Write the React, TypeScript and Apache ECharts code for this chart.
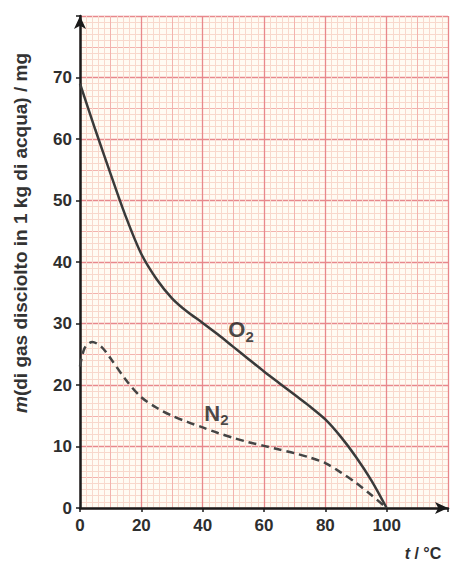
import React, { useEffect, useRef } from "react";
import * as echarts from "echarts";

const o2Temps = [0, 5, 10, 15, 20, 25, 30, 35, 40, 45, 50, 55, 60, 65, 70, 75, 80, 85, 90, 95, 100];
const o2Values = [69, 61.5, 54.3, 47.3, 41.3, 37.2, 34.1, 31.9, 30.1, 28.2, 26.2, 24.2, 22.2, 20.3, 18.4, 16.5, 14.4, 11.6, 8.3, 4.5, 0];
const n2Temps = [0, 1.5, 4, 7, 10, 15, 20, 25, 30, 35, 40, 45, 50, 55, 60, 65, 70, 75, 80, 85, 90, 95, 100];
const n2Values = [23, 26, 27, 26.2, 24.3, 20.8, 18, 16.3, 15, 14, 13.1, 12.2, 11.4, 10.7, 10.1, 9.5, 8.9, 8.2, 7.3, 5.8, 4.1, 2.1, 0];
const o2Label = [52.5, 29];
const n2Label = [44.5, 15.4];
const xTicks = [0, 20, 40, 60, 80, 100];
const yTicks = [0, 10, 20, 30, 40, 50, 60, 70];

export default function App() {
  const ref = useRef<HTMLDivElement>(null);
  useEffect(() => {
    if (!ref.current) return;
    const chart = echarts.init(ref.current, undefined, { renderer: "svg" });
    const font = "'Liberation Sans', Arial, sans-serif";
    const gridBox = { left: 80, top: 16, right: 3, bottom: 59 };
    const hiddenAxisBase = {
      type: "value" as const,
      min: 0,
      axisLine: { show: false },
      axisTick: { show: false },
      axisLabel: { show: false },
    };
    const labelStyle = {
      fontFamily: font,
      fontWeight: "bold" as const,
      fontSize: 17,
      color: "#2e2e2e",
    };
    chart.setOption({
      animation: false,
      backgroundColor: "#ffffff",
      grid: [
        { ...gridBox, show: true, backgroundColor: "#fffbf3", borderWidth: 0 },
        { ...gridBox },
        { ...gridBox },
      ],
      xAxis: [
        {
          ...hiddenAxisBase,
          gridIndex: 1,
          max: 120,
          interval: 10,
          splitLine: { show: true, lineStyle: { color: "#f3b3ae", width: 1 } },
          minorTick: { show: false, splitNumber: 5 },
          minorSplitLine: { show: true, lineStyle: { color: "#f8d8cc", width: 1 } },
        },
        {
          ...hiddenAxisBase,
          gridIndex: 2,
          max: 120,
          interval: 20,
          splitLine: { show: true, lineStyle: { color: "#e8888c", width: 1.3 } },
        },
        {
          type: "value",
          gridIndex: 0,
          min: 0,
          max: 120,
          interval: 20,
          splitLine: { show: false },
          axisLine: {
            show: true,
            symbol: ["none", "arrow"],
            symbolSize: [9, 13],
            lineStyle: { color: "#1a1a1a", width: 2.5 },
          },
          axisTick: { show: true, length: 4, lineStyle: { color: "#1a1a1a", width: 1.5 } },
          axisLabel: {
            ...labelStyle,
            margin: 9,
            formatter: (v: number) => (xTicks.includes(v) ? String(v) : ""),
          },
        },
      ],
      yAxis: [
        {
          ...hiddenAxisBase,
          gridIndex: 1,
          max: 80,
          interval: 5,
          splitLine: { show: true, lineStyle: { color: "#f3b3ae", width: 1 } },
          minorTick: { show: false, splitNumber: 5 },
          minorSplitLine: { show: true, lineStyle: { color: "#f8d8cc", width: 1 } },
        },
        {
          ...hiddenAxisBase,
          gridIndex: 2,
          max: 80,
          interval: 10,
          splitLine: { show: true, lineStyle: { color: "#e8888c", width: 1.3 } },
        },
        {
          type: "value",
          gridIndex: 0,
          min: 0,
          max: 80,
          interval: 10,
          splitLine: { show: false },
          axisLine: {
            show: true,
            symbol: ["none", "arrow"],
            symbolSize: [9, 13],
            lineStyle: { color: "#1a1a1a", width: 2.5 },
          },
          axisTick: { show: true, length: 4, lineStyle: { color: "#1a1a1a", width: 1.5 } },
          axisLabel: {
            ...labelStyle,
            margin: 8,
            formatter: (v: number) => (yTicks.includes(v) ? String(v) : ""),
          },
        },
      ],
      series: [
        {
          type: "line",
          xAxisIndex: 2,
          yAxisIndex: 2,
          smooth: 0.3,
          symbol: "none",
          data: o2Temps.map((t, i) => [t, o2Values[i]]),
          lineStyle: { color: "#3a3a3a", width: 2.5 },
          z: 5,
        },
        {
          type: "line",
          xAxisIndex: 2,
          yAxisIndex: 2,
          smooth: 0.3,
          symbol: "none",
          data: n2Temps.map((t, i) => [t, n2Values[i]]),
          lineStyle: { color: "#444", width: 2.5, type: [8, 5] },
          z: 5,
        },
        {
          type: "scatter",
          xAxisIndex: 2,
          yAxisIndex: 2,
          symbolSize: 0,
          silent: true,
          data: [
            { value: o2Label, label: { formatter: "{a|O}{b|2}" } },
            { value: n2Label, label: { formatter: "{a|N}{b|2}" } },
          ],
          label: {
            show: true,
            position: "inside",
            rich: {
              a: { fontFamily: font, fontWeight: "bold", fontSize: 22, color: "#1a1a1a" },
              b: { fontFamily: font, fontWeight: "bold", fontSize: 15, color: "#1a1a1a", padding: [13, 0, 0, 0] },
            },
          },
          z: 6,
        },
      ],
      graphic: [
        {
          type: "text",
          x: 20,
          y: 233,
          rotation: Math.PI / 2,
          style: {
            text: "{i|m}(di gas disciolto in 1 kg di acqua) / mg",
            align: "center",
            verticalAlign: "middle",
            fontFamily: font,
            fontWeight: "bold",
            fontSize: 19,
            fill: "#333",
            rich: {
              i: { fontFamily: font, fontWeight: "bold", fontStyle: "italic", fontSize: 19, fill: "#333" },
            },
          },
        },
        {
          type: "text",
          x: 423,
          y: 553,
          style: {
            text: "{i|t} / °C",
            align: "center",
            verticalAlign: "middle",
            fontFamily: font,
            fontWeight: "bold",
            fontSize: 16,
            fill: "#2e2e2e",
            rich: {
              i: { fontFamily: font, fontWeight: "bold", fontStyle: "italic", fontSize: 16, fill: "#2e2e2e" },
            },
          },
        },
      ],
    });
    return () => chart.dispose();
  }, []);
  return <div ref={ref} style={{ position: "fixed", left: 0, top: 0, width: 451, height: 567 }} />;
}
